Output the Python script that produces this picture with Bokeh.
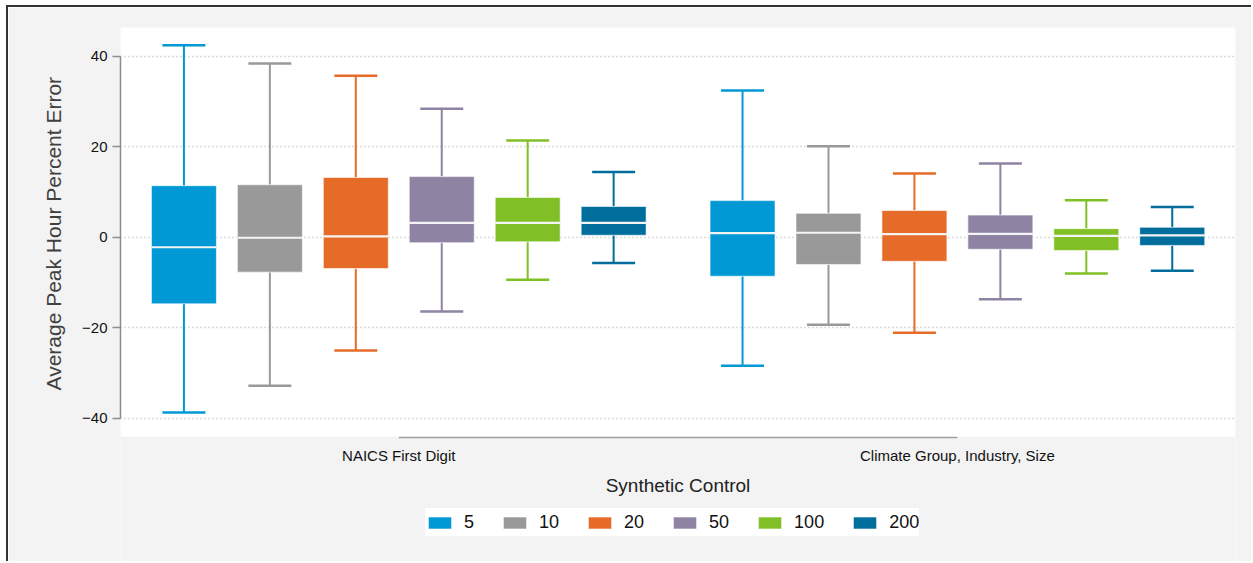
from bokeh.plotting import figure
from bokeh.models import (ColumnDataSource, FixedTicker, Legend, LegendItem,
                          Range1d, LinearAxis, Grid, BoxAnnotation, Title)
from bokeh.core.properties import value
from bokeh.embed import file_html
from bokeh.resources import INLINE

# Number of units in the synthetic control, one box per size within each group
series = ["5", "10", "20", "50", "100", "200"]
groups = ["NAICS First Digit", "Climate Group, Industry, Size"]
colors = ["#0099d6", "#999999", "#e66a28", "#8e83a3", "#80bf26", "#006e9d"]

# Box statistics per series: [NAICS First Digit, Climate Group/Industry/Size]
upper_whisker = [[42.4, 32.4], [38.4, 20.1], [35.7, 14.1], [28.4, 16.3], [21.4, 8.2], [14.4, 6.7]]
q3 = [[11.4, 8.1], [11.6, 5.3], [13.2, 5.9], [13.4, 4.9], [8.8, 1.9], [6.8, 2.2]]
median = [[-2.2, 0.9], [-0.1, 1.0], [0.2, 0.7], [3.2, 0.75], [3.2, 0.3], [3.2, 0.4]]
q1 = [[-14.7, -8.6], [-7.7, -6.0], [-6.9, -5.3], [-1.2, -2.65], [-1.0, -2.9], [0.45, -1.8]]
lower_whisker = [[-38.7, -28.4], [-32.8, -19.3], [-25.0, -21.1], [-16.4, -13.7], [-9.4, -8.0], [-5.7, -7.4]]

y_ticks = [-40, -20, 0, 20, 40]
y_title = "Average Peak Hour Percent Error"
x_title = "Synthetic Control"

FONT = "Liberation Sans"
n = len(series)
group_gap = 0.5
box_w = 0.756
cap_w = 0.5

# vertical layout (in y units): white plotting region, then the group axis,
# its labels, the axis title and the legend underneath
Y_TOP = 46.34
Y_PLOT_BOTTOM = -44.04
Y_FRAME_BOTTOM = -72.06
Y_AXIS_LINE = -44.25
Y_GROUP_LABEL = -48.2
Y_TITLE = -54.8
X_LEFT, X_RIGHT = -0.738, 12.236


def xpos(s, g):
    return s + g * (n + group_gap)


group_centers = [(n - 1) / 2 + g * (n + group_gap) for g in range(len(groups))]

p = figure(width=1245, height=556,
           x_range=Range1d(X_LEFT, X_RIGHT), y_range=Range1d(Y_FRAME_BOTTOM, Y_TOP),
           x_axis_type=None, y_axis_type=None,
           output_backend="svg", toolbar_location=None,
           min_border_left=112, min_border_top=20, min_border_right=18,
           min_border_bottom=0,
           background_fill_color="#f3f3f3", border_fill_color="#f3f3f3",
           outline_line_color=None)
p.styles = {"margin-left": "6px", "margin-top": "5px",
            "border-left": "2px solid #333333", "border-top": "2px solid #333333"}

# white plotting region
p.add_layout(BoxAnnotation(bottom=Y_PLOT_BOTTOM, fill_color="white", fill_alpha=1.0,
                           line_color=None, level="image"))

# y axis
yaxis = LinearAxis(ticker=FixedTicker(ticks=y_ticks), bounds=(-40, 40))
yaxis.axis_line_color = "#8c8c8c"
yaxis.axis_line_width = 1.5
yaxis.major_tick_line_color = "#8c8c8c"
yaxis.major_tick_line_width = 1.5
yaxis.major_tick_out = 8
yaxis.major_tick_in = 0
yaxis.minor_tick_line_color = None
yaxis.major_label_standoff = 5
yaxis.major_label_text_font = FONT
yaxis.major_label_text_font_size = "15px"
yaxis.major_label_text_color = "#111111"
p.add_layout(yaxis, "left")

# y axis title, centred on the white plotting region
p.add_layout(Title(text=y_title, align="left", offset=173, standoff=30,
                   text_font=FONT, text_font_size="21px", text_font_style="normal",
                   text_color="#404040"), "left")

p.add_layout(Grid(dimension=1, ticker=yaxis.ticker, grid_line_color="#b8b8b8",
                  grid_line_dash="1 3", grid_line_width=1.3))

# group axis: line between the group centres, group names and title
p.segment(x0=[group_centers[0]], y0=[Y_AXIS_LINE], x1=[group_centers[-1]], y1=[Y_AXIS_LINE],
          line_color="#a0a0a0", line_width=1.5)
p.text(x=group_centers, y=[Y_GROUP_LABEL] * len(groups), text=groups,
       text_font=value(FONT), text_font_size="15px", text_color="#111111",
       text_align="center", text_baseline="middle")
p.text(x=[(X_LEFT + X_RIGHT) / 2], y=[Y_TITLE], text=[x_title],
       text_font=value(FONT), text_font_size="19px", text_color="#222222",
       text_align="center", text_baseline="middle")

items = []
for s, name in enumerate(series):
    xs = [xpos(s, g) for g in range(len(groups))]
    src = ColumnDataSource(dict(
        x=xs, x0=[x - cap_w / 2 for x in xs], x1=[x + cap_w / 2 for x in xs],
        xb0=[x - box_w / 2 for x in xs], xb1=[x + box_w / 2 for x in xs],
        hi=upper_whisker[s], q3=q3[s], med=median[s], q1=q1[s], lo=lower_whisker[s]))
    c = colors[s]
    # whiskers and caps
    p.segment(x0="x", y0="q3", x1="x", y1="hi", source=src, line_color=c, line_width=2)
    p.segment(x0="x", y0="q1", x1="x", y1="lo", source=src, line_color=c, line_width=2)
    p.segment(x0="x0", y0="hi", x1="x1", y1="hi", source=src, line_color=c, line_width=2.5)
    p.segment(x0="x0", y0="lo", x1="x1", y1="lo", source=src, line_color=c, line_width=2.5)
    # interquartile box
    r = p.vbar(x="x", width=box_w, bottom="q1", top="q3", source=src,
               fill_color=c, line_color="white", line_alpha=0.6, line_width=1)
    # median
    p.segment(x0="xb0", y0="med", x1="xb1", y1="med", source=src,
              line_color="#f4f4f4", line_width=2.2)
    items.append(LegendItem(label=name, renderers=[r]))

legend = Legend(items=items, orientation="horizontal", location=(305, 27),
                glyph_width=29, glyph_height=15, label_standoff=10, spacing=26,
                label_width=0, label_height=28, padding=4, margin=0,
                label_text_font=FONT, label_text_font_size="18px",
                label_text_color="#111111",
                background_fill_color="white", background_fill_alpha=1.0,
                border_line_color=None)
p.add_layout(legend, "center")

open("out.html", "w").write(file_html(p, INLINE))
